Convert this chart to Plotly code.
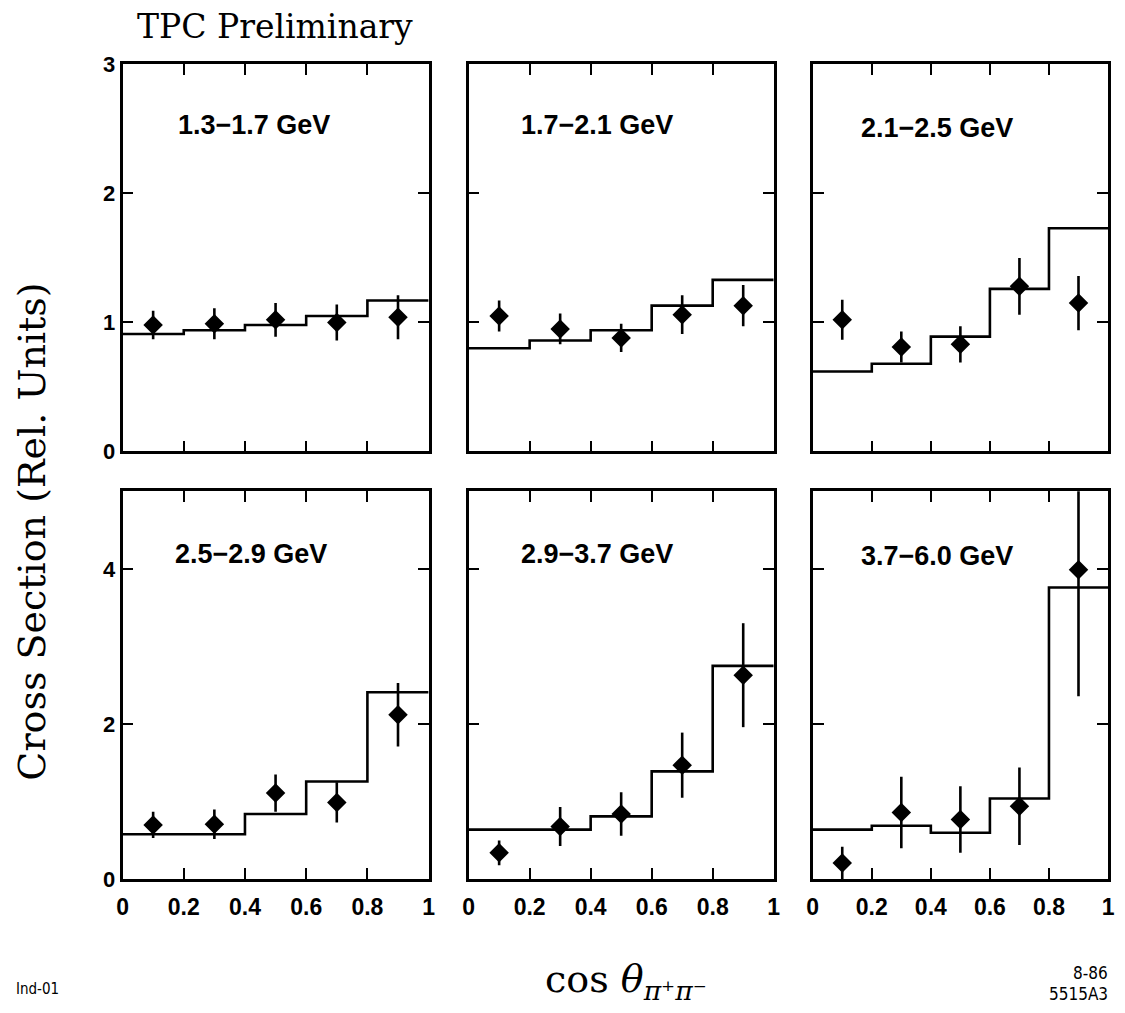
import plotly.graph_objects as go

# ---------------- data ----------------
bin_edges = [0.0, 0.2, 0.4, 0.6, 0.8, 1.0]
point_x = [0.1, 0.3, 0.5, 0.7, 0.9]
panel_labels = ["1.3−1.7 GeV", "1.7−2.1 GeV", "2.1−2.5 GeV",
                "2.5−2.9 GeV", "2.9−3.7 GeV", "3.7−6.0 GeV"]

hist_1 = [0.91, 0.94, 0.98, 1.05, 1.17]
pts_1 = [0.98, 0.99, 1.02, 1.00, 1.04]
err_1 = [0.11, 0.12, 0.13, 0.14, 0.17]

hist_2 = [0.80, 0.86, 0.94, 1.13, 1.33]
pts_2 = [1.05, 0.95, 0.88, 1.06, 1.13]
err_2 = [0.12, 0.12, 0.11, 0.15, 0.16]

hist_3 = [0.62, 0.68, 0.89, 1.26, 1.73]
pts_3 = [1.02, 0.81, 0.83, 1.28, 1.15]
err_3 = [0.155, 0.12, 0.14, 0.22, 0.21]

hist_4 = [0.58, 0.58, 0.84, 1.26, 2.41]
pts_4 = [0.70, 0.71, 1.11, 0.99, 2.12]
err_4 = [0.17, 0.19, 0.24, 0.26, 0.41]

hist_5 = [0.64, 0.64, 0.81, 1.39, 2.75]
pts_5 = [0.34, 0.68, 0.84, 1.47, 2.63]
err_5 = [0.16, 0.25, 0.28, 0.42, 0.67]

hist_6 = [0.64, 0.69, 0.60, 1.04, 3.76]
pts_6 = [0.21, 0.86, 0.77, 0.94, 3.99]
err_6 = [0.21, 0.46, 0.43, 0.50, 1.63]

x_tickvals = [0, 0.2, 0.4, 0.6, 0.8, 1.0]
x_ticktext = ["0", "0.2", "0.4", "0.6", "0.8", "1"]
top_y_ticks = [0, 1, 2, 3]
bot_y_ticks = [0, 2, 4]

hists = [hist_1, hist_2, hist_3, hist_4, hist_5, hist_6]
pts = [pts_1, pts_2, pts_3, pts_4, pts_5, pts_6]
errs = [err_1, err_2, err_3, err_4, err_5, err_6]

# ---------------- layout geometry ----------------
W, H = 1109, 1013
# empirical page-placement correction (figure px -> photographed px)
AX, BX = 0.988, 13.5
AY, BY = 0.978, 19.4

col_px = [(122, 428), (468, 773), (812, 1118)]
row_px = [(64, 452), (492, 881)]
label_pos = [(0.43, 2.53), (0.42, 2.53), (0.42, 2.51),
             (0.42, 4.19), (0.42, 4.19), (0.42, 4.16)]


def clamp(v):
    return max(0.0, min(1.0, v))


def px(x):
    return clamp(((x - BX) / AX) / W)


def py(y):
    return clamp(1 - ((y - BY) / AY) / H)


fig = go.Figure()
BLACK = "#000000"

for i in range(6):
    r, c = divmod(i, 3)
    n = i + 1
    xa = "x" if n == 1 else f"x{n}"
    ya = "y" if n == 1 else f"y{n}"
    h = hists[i]
    fig.add_trace(go.Scatter(
        x=bin_edges, y=h + [h[-1]], mode="lines", line_shape="hv",
        line=dict(color=BLACK, width=2.6), xaxis=xa, yaxis=ya,
        showlegend=False, hoverinfo="skip"))
    fig.add_trace(go.Scatter(
        x=point_x, y=pts[i], mode="markers",
        marker=dict(symbol="diamond", size=15, color=BLACK,
                    line=dict(width=0)),
        error_y=dict(type="data", array=errs[i], visible=True,
                     color=BLACK, thickness=2.6, width=0),
        xaxis=xa, yaxis=ya, showlegend=False, cliponaxis=True))

    x0, x1 = col_px[c]
    yt, yb = row_px[r]
    xdom = [px(x0), min(px(x1), 1 - 2 / W)]
    ydom = [py(yb), py(yt)]
    axis_common = dict(showline=True, linecolor=BLACK, linewidth=2.6,
                       mirror="ticks", ticks="inside", ticklen=11,
                       tickwidth=2, tickcolor=BLACK, showgrid=False,
                       zeroline=False, fixedrange=True)
    xkey = "xaxis" if n == 1 else f"xaxis{n}"
    ykey = "yaxis" if n == 1 else f"yaxis{n}"
    fig.update_layout(**{
        xkey: dict(domain=xdom, range=[0, 1], anchor=ya,
                   tickvals=x_tickvals, ticktext=x_ticktext,
                   showticklabels=(r == 1),
                   tickfont=dict(family="Liberation Sans", size=23,
                                 color=BLACK, weight="bold"),
                   ticklabelstandoff=5,
                   **axis_common),
        ykey: dict(domain=ydom,
                   range=[0, 3] if r == 0 else [0, 5],
                   tickvals=top_y_ticks if r == 0 else bot_y_ticks,
                   anchor=xa, showticklabels=(c == 0),
                   tickfont=dict(family="Liberation Sans", size=22,
                                 color=BLACK, weight="bold"),
                   **axis_common),
    })
    lx, ly = label_pos[i]
    fig.add_annotation(x=lx, y=ly, xref=xa, yref=ya, text=panel_labels[i],
                       showarrow=False, xanchor="center", yanchor="middle",
                       font=dict(family="Liberation Sans", size=27,
                                 color=BLACK, weight="bold"))

# titles / notes
fig.add_annotation(x=px(274), y=py(26), xref="paper", yref="paper",
                   text="TPC Preliminary", showarrow=False,
                   xanchor="center", yanchor="middle",
                   font=dict(family="DejaVu Serif", size=33, color=BLACK))
fig.add_annotation(x=px(32), y=py(533), xref="paper", yref="paper",
                   text="Cross Section (Rel. Units)", showarrow=False,
                   textangle=-90, xanchor="center", yanchor="middle",
                   font=dict(family="DejaVu Serif", size=38, color=BLACK))
fig.add_annotation(x=px(625), y=py(984), xref="paper", yref="paper",
                   text="cos <i>θ</i><sub><i>π⁺π⁻</i></sub>",
                   showarrow=False, xanchor="center", yanchor="middle",
                   font=dict(family="DejaVu Serif", size=38, color=BLACK))
fig.add_annotation(x=px(6), y=py(991), xref="paper", yref="paper",
                   text="Ind-01", showarrow=False, xanchor="left",
                   yanchor="middle",
                   font=dict(family="DejaVu Sans Condensed", size=15,
                             color=BLACK))
fig.add_annotation(x=1.0, y=py(975), xref="paper", yref="paper",
                   text="8-86", showarrow=False, xanchor="right",
                   yanchor="middle",
                   font=dict(family="DejaVu Sans Condensed", size=17,
                             color=BLACK))
fig.add_annotation(x=1.0, y=py(996), xref="paper", yref="paper",
                   text="5515A3", showarrow=False, xanchor="right",
                   yanchor="middle",
                   font=dict(family="DejaVu Sans Condensed", size=17,
                             color=BLACK))

fig.update_layout(width=W, height=H, autosize=False,
                  margin=dict(l=0, r=0, t=0, b=0),
                  paper_bgcolor="white", plot_bgcolor="white",
                  showlegend=False)

fig.write_html("out.html")
